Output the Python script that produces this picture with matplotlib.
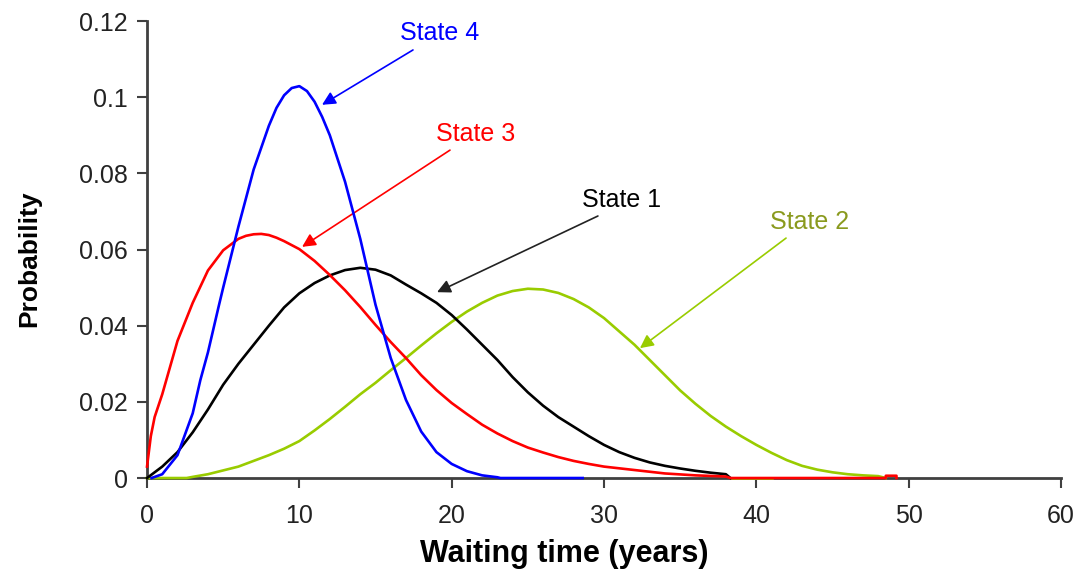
import matplotlib.pyplot as plt
import numpy as np

plt.rcParams['font.family'] = ['Liberation Sans', 'DejaVu Sans']

# Waiting time distributions for each state (years, probability)
s1_x = [0, 1, 2, 3, 4, 5, 6, 7, 8, 9, 10, 11, 12, 13, 14, 15, 16, 17, 18, 19,
        20, 21, 22, 23, 24, 25, 26, 27, 28, 29, 30, 31, 32, 33, 34, 35, 36, 37, 38, 38.3]
s1_y = [0, 0.003, 0.0068, 0.012, 0.018, 0.0245, 0.030, 0.035, 0.040, 0.0448,
        0.0485, 0.0512, 0.0532, 0.0546, 0.0552, 0.0547, 0.0532, 0.0508, 0.0485, 0.046,
        0.0428, 0.039, 0.035, 0.031, 0.0265, 0.0225, 0.019, 0.016, 0.0135, 0.011,
        0.0087, 0.0068, 0.0053, 0.0041, 0.0032, 0.0025, 0.0019, 0.0014, 0.001, 0]

s2_x = [0, 2.6, 3, 4, 5, 6, 7, 8, 9, 10, 11, 12, 13, 14, 15, 16, 17, 18, 19, 20,
        21, 22, 23, 24, 25, 26, 27, 28, 29, 30, 31, 32, 33, 34, 35, 36, 37, 38, 39, 40,
        41, 42, 43, 44, 45, 46, 47, 48, 48.5]
s2_y = [0, 0, 0.0003, 0.001, 0.002, 0.003, 0.0045, 0.006, 0.0077, 0.0097,
        0.0125, 0.0155, 0.0187, 0.022, 0.025, 0.0283, 0.0315, 0.0348, 0.038, 0.041,
        0.0437, 0.046, 0.0479, 0.0491, 0.0497, 0.0495, 0.0486, 0.047, 0.0448, 0.042,
        0.0385, 0.035, 0.031, 0.027, 0.023, 0.0195, 0.0163, 0.0135, 0.011, 0.0087,
        0.0066, 0.0047, 0.0032, 0.0022, 0.0015, 0.001, 0.0007, 0.0005, 0]
s2_floor_x = [38.4, 41.0]
s2_floor_y = [0, 0]

s3_x = [0, 0.25, 0.5, 1, 2, 3, 4, 5, 6, 6.5, 7, 7.5, 8, 8.5, 9, 10, 11, 12, 13, 14,
        15, 16, 17, 18, 19, 20, 21, 22, 23, 24, 25, 26, 27, 28, 29, 30, 32, 34, 36, 38,
        38.3, 48.5, 48.5, 49.2, 49.2]
s3_y = [0.003, 0.011, 0.016, 0.022, 0.036, 0.046, 0.0545, 0.0598, 0.0628, 0.0636,
        0.064, 0.0641, 0.0638, 0.0631, 0.0622, 0.0601, 0.057, 0.0533, 0.0493, 0.0449,
        0.0402, 0.0357, 0.0315, 0.027, 0.0231, 0.0197, 0.0168, 0.014, 0.0117, 0.0097,
        0.008, 0.0067, 0.0055, 0.0045, 0.0037, 0.003, 0.0021, 0.0012, 0.0007, 0.0004,
        0, 0, 0.0006, 0.0006, 0]

s4_x = [0.3, 1, 2, 3, 3.5, 4, 4.7, 5, 6, 7, 8, 8.5, 9, 9.5, 10, 10.5, 11, 11.5, 12, 13,
        14, 15, 16, 17, 18, 19, 20, 21, 22, 23, 23.2, 28.6]
s4_y = [0, 0.001, 0.006, 0.017, 0.0257, 0.033, 0.045, 0.050, 0.066, 0.081,
        0.0925, 0.0972, 0.1005, 0.1024, 0.1029, 0.1016, 0.0988, 0.0948, 0.0900, 0.0778,
        0.0628, 0.0455, 0.0315, 0.0205, 0.0122, 0.0068, 0.0037, 0.0018, 0.0007, 0.0002,
        0, 0]

fig = plt.figure(figsize=(10.81, 5.74), dpi=100)
ax = fig.add_axes([0.136, 0.1672, 0.8455, 0.7962])

lw = 1.9
ax.plot(s2_x, s2_y, color='#99cc00', lw=lw, clip_on=False, zorder=3)
ax.plot(s2_floor_x, s2_floor_y, color='#99cc00', lw=lw, clip_on=False, zorder=3)
ax.plot(s1_x, s1_y, color='black', lw=lw, clip_on=False, zorder=4)
ax.plot(s3_x, s3_y, color='#ff0000', lw=lw, clip_on=False, zorder=5)
ax.plot(s4_x, s4_y, color='#0000ff', lw=lw, clip_on=False, zorder=6)

# state labels with arrows pointing at each curve
labels = [
    ('State 4', (19.23, 0.1169), (17.46, 0.1124), (11.49, 0.0980), '#0000ff', '#0000ff'),
    ('State 3', (21.6, 0.0903), (19.89, 0.0861), (10.18, 0.0607), '#ff0000', '#ff0000'),
    ('State 1', (31.18, 0.0730), (29.6, 0.0688), (19.04, 0.0488), 'black', '#222222'),
    ('State 2', (43.5, 0.0672), (41.95, 0.0630), (32.36, 0.0341), '#8a9a1e', '#99cc00'),
]
for txt, pos, start, tip, tcol, acol in labels:
    ax.text(pos[0], pos[1], txt, color=tcol, fontsize=18, ha='center', va='center')
    ax.annotate('', xy=tip, xytext=start,
                arrowprops=dict(arrowstyle='-|>', color=acol, lw=1.2,
                                mutation_scale=20, shrinkA=0, shrinkB=0))

ax.set_xlim(0, 60)
ax.set_ylim(0, 0.12)
ax.set_xticks([0, 10, 20, 30, 40, 50, 60])
ax.set_yticks([0, 0.02, 0.04, 0.06, 0.08, 0.1, 0.12])
ax.set_yticklabels(['0', '0.02', '0.04', '0.06', '0.08', '0.1', '0.12'])

for side in ['top', 'right']:
    ax.spines[side].set_visible(False)
for side in ['left', 'bottom']:
    ax.spines[side].set_color('#404040')
    ax.spines[side].set_linewidth(2)
ax.tick_params(axis='both', direction='out', length=7, width=1.5,
               color='#404040', labelsize=18, labelcolor='#222222')
ax.tick_params(axis='y', pad=7)
ax.tick_params(axis='x', pad=12)

ax.set_xlabel('Waiting time (years)', fontsize=22, fontweight='bold')
ax.xaxis.set_label_coords(0.457, -0.134)
ax.set_ylabel('Probability', fontsize=19, fontweight='bold')
ax.yaxis.set_label_coords(-0.116, 0.48)

fig.savefig('out.png', dpi=100)
